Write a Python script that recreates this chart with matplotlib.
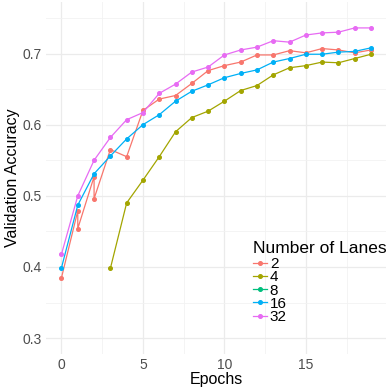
import matplotlib
matplotlib.use("Agg")
import matplotlib.pyplot as plt
import numpy as np

# Validation accuracy per epoch, for each number of lanes
epochs_2 = [0, 1, 1, 2, 2, 3, 4, 5, 6, 7, 8, 9, 10, 11, 12, 13, 14, 15, 16, 17, 18, 19]
acc_2 = [0.385, 0.479, 0.454, 0.527, 0.496, 0.565, 0.555, 0.620, 0.636, 0.641, 0.658,
         0.676, 0.683, 0.688, 0.698, 0.698, 0.704, 0.701, 0.707, 0.705, 0.701, 0.705]

epochs_4 = list(range(3, 20))
acc_4 = [0.398, 0.490, 0.522, 0.555, 0.590, 0.610, 0.619, 0.633, 0.648, 0.655, 0.670,
         0.680, 0.683, 0.688, 0.687, 0.693, 0.699]

epochs_8 = []
acc_8 = []

epochs_16 = list(range(0, 20))
acc_16 = [0.399, 0.487, 0.531, 0.556, 0.580, 0.600, 0.614, 0.633, 0.647, 0.656, 0.666,
          0.672, 0.677, 0.688, 0.693, 0.699, 0.699, 0.702, 0.703, 0.708]

epochs_32 = list(range(0, 20))
acc_32 = [0.418, 0.500, 0.550, 0.582, 0.607, 0.617, 0.644, 0.657, 0.674, 0.681, 0.698,
          0.705, 0.709, 0.718, 0.716, 0.726, 0.729, 0.730, 0.736, 0.736]

lanes = ["2", "4", "8", "16", "32"]
series = [(epochs_2, acc_2), (epochs_4, acc_4), (epochs_8, acc_8),
          (epochs_16, acc_16), (epochs_32, acc_32)]
colors = ["#F8766D", "#A3A500", "#00BF7D", "#00B0F6", "#E76BF3"]

plt.rcParams['font.family'] = ['Liberation Sans', 'DejaVu Sans']

fig = plt.figure(figsize=(3.9, 3.9), dpi=100)
ax = fig.add_axes([0.118, 0.092, 0.873, 0.903])

for lab, (x, y), c in zip(lanes, series, colors):
    ax.plot(x, y, color=c, lw=0.9, marker='o', ms=2.6, label=lab)

ax.set_xlim(-0.95, 19.95)
ax.set_ylim(0.2775, 0.7725)
ax.set_xticks([0, 5, 10, 15])
ax.set_yticks([0.3, 0.4, 0.5, 0.6, 0.7])
ax.set_xticks([2.5, 7.5, 12.5, 17.5], minor=True)
ax.set_yticks([0.35, 0.45, 0.55, 0.65, 0.75], minor=True)
ax.grid(True, which='major', color='#EBEBEB', lw=0.9)
ax.grid(True, which='minor', color='#F2F2F2', lw=0.6)
ax.set_axisbelow(True)
for s in ax.spines.values():
    s.set_visible(False)
ax.tick_params(which='both', length=0, labelsize=10, colors='#4D4D4D', pad=3)

ax.set_xlabel("Epochs", fontsize=11.5, labelpad=0)
ax.set_ylabel("Validation Accuracy", fontsize=11.5, labelpad=2)

leg = ax.legend(title="Number of Lanes", loc='upper left', bbox_to_anchor=(0.608, 0.322),
                frameon=False, fontsize=11, title_fontsize=12.5, handlelength=0.9,
                handletextpad=0.2, labelspacing=-0.05, borderaxespad=0, borderpad=0)
leg._legend_box.align = "left"
leg._legend_box.sep = 1

fig.savefig("out.png", dpi=100)
